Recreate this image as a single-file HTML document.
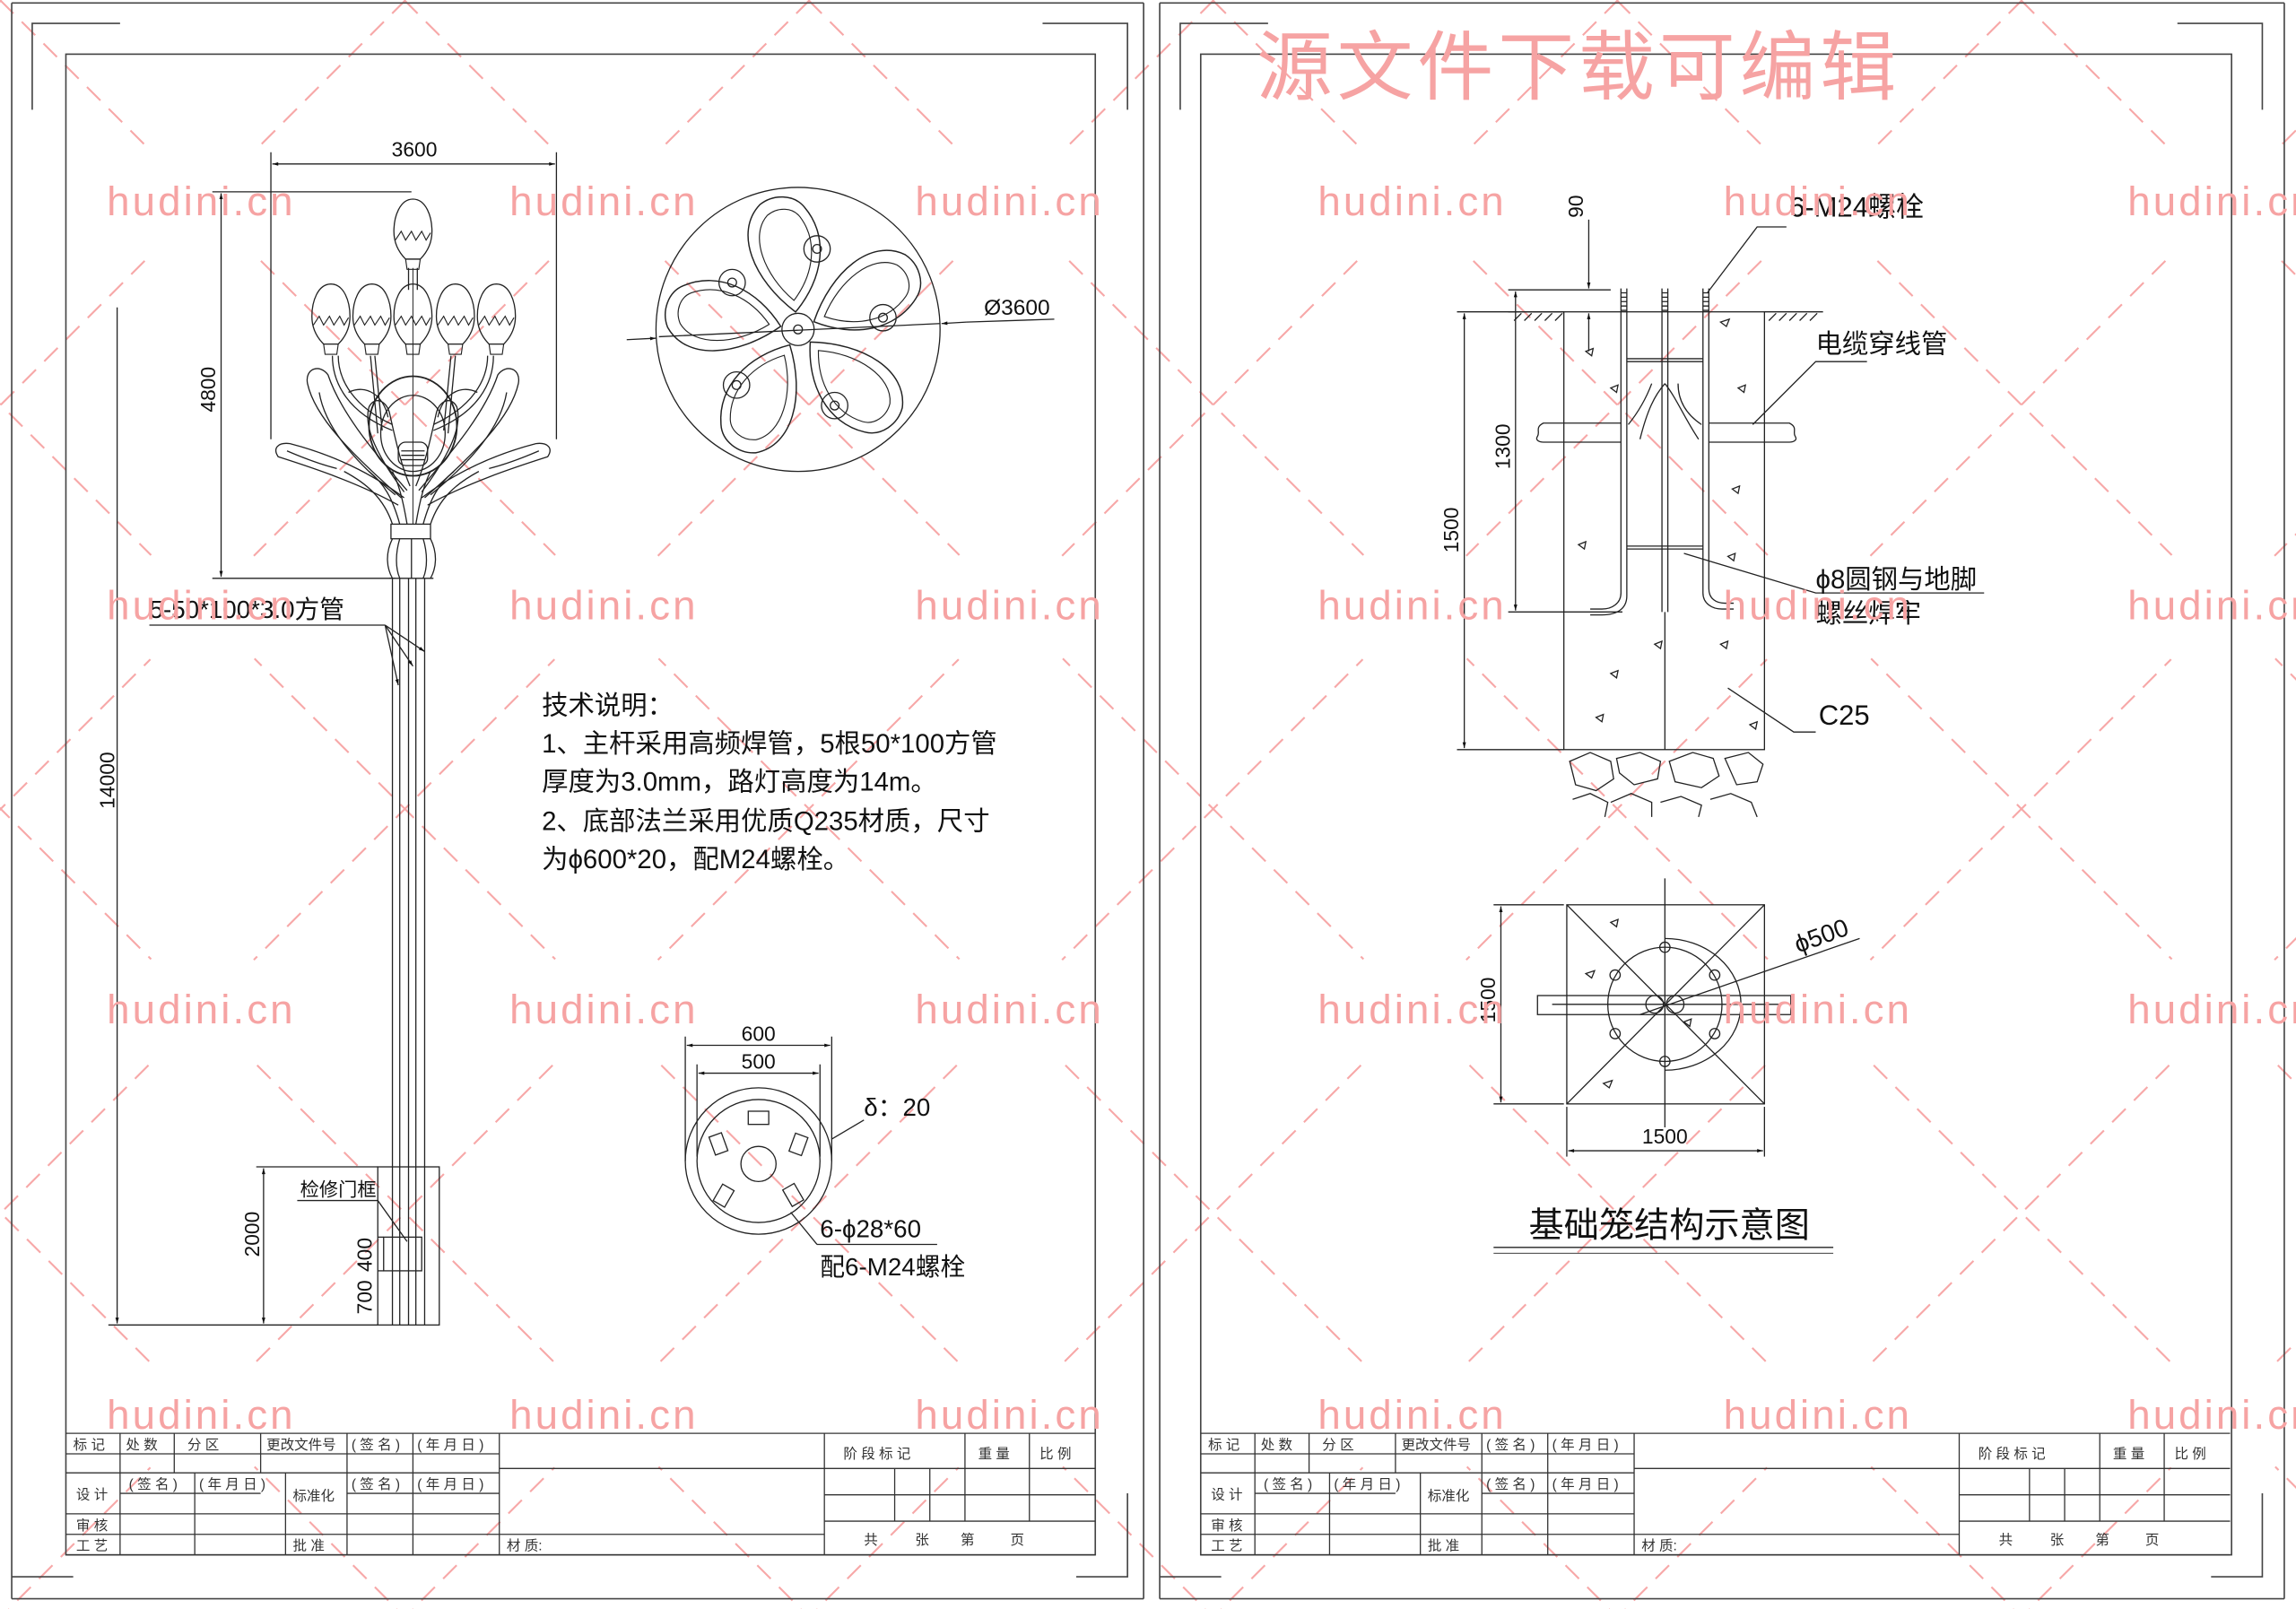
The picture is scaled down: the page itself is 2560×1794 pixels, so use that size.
<!DOCTYPE html>
<html><head><meta charset="utf-8">
<style>
html,body{margin:0;padding:0;background:#fff;}
svg{display:block;}
text{font-family:"Liberation Sans","Noto Sans CJK SC",sans-serif;fill:#111;}
.tb{font-size:9.5px;fill:#333;}
</style></head>
<body>
<svg width="2560" height="1794" viewBox="0 0 1568 1099" preserveAspectRatio="none" xmlns="http://www.w3.org/2000/svg">
<rect width="1568" height="1099" fill="#fff"/>
<defs>
  <marker id="ar" viewBox="0 0 10 10" refX="10" refY="5" markerWidth="7" markerHeight="5" orient="auto-start-reverse"><path d="M0,2 L10,5 L0,8 Z" fill="#111"/></marker>
  <g id="bulb">
    <path d="M0,-24 C9,-24 13,-12 13,-2 C13,8 8,14 5,17 L-5,17 C-8,14 -13,8 -13,-2 C-13,-12 -9,-24 0,-24 Z" fill="none" stroke="#222" stroke-width="0.8"/>
    <path d="M-12,4 L-8,-2 L-5,4 L-1,-2 L2,4 L6,-2 L9,4 L12,-1" fill="none" stroke="#222" stroke-width="0.7"/>
    <path d="M-5,17 L5,17 L4,24 L-4,24 Z" fill="none" stroke="#222" stroke-width="0.7"/>
  </g>
  <g id="petal">
    <path d="M0,-12 C-26,-38 -34,-72 -14,-88 C-4,-94 10,-92 16,-82 C30,-60 22,-32 0,-12 Z" fill="none" stroke="#222" stroke-width="0.9"/>
    <path d="M0,-20 C-18,-40 -24,-68 -10,-80 C-2,-85 8,-83 12,-76 C22,-58 16,-36 0,-20 Z" fill="none" stroke="#222" stroke-width="0.7"/>
  </g>
  <mask id="wm" maskUnits="userSpaceOnUse" x="0" y="0" width="1568" height="1099">
    <rect width="1568" height="1099" fill="#fff"/>
    <g fill="#000">
      <circle cx="138" cy="139" r="50"/><circle cx="414" cy="139" r="50"/><circle cx="690" cy="139" r="50"/><circle cx="966" cy="139" r="50"/><circle cx="1242" cy="139" r="50"/><circle cx="1518" cy="139" r="50"/>
      <circle cx="138" cy="415" r="50"/><circle cx="414" cy="415" r="50"/><circle cx="690" cy="415" r="50"/><circle cx="966" cy="415" r="50"/><circle cx="1242" cy="415" r="50"/><circle cx="1518" cy="415" r="50"/>
      <circle cx="138" cy="691" r="50"/><circle cx="414" cy="691" r="50"/><circle cx="690" cy="691" r="50"/><circle cx="966" cy="691" r="50"/><circle cx="1242" cy="691" r="50"/><circle cx="1518" cy="691" r="50"/>
      <circle cx="138" cy="967" r="50"/><circle cx="414" cy="967" r="50"/><circle cx="690" cy="967" r="50"/><circle cx="966" cy="967" r="50"/><circle cx="1242" cy="967" r="50"/><circle cx="1518" cy="967" r="50"/>
    </g>
  </mask>
</defs>

<!-- watermark diagonal dashed lines -->
<g stroke="#f7a8a8" stroke-width="1.3" stroke-dasharray="13 8" fill="none" mask="url(#wm)">
  <line x1="-1104" y1="0" x2="-5" y2="1099"/><line x1="-828" y1="0" x2="271" y2="1099"/>
  <line x1="-552" y1="0" x2="547" y2="1099"/><line x1="-276" y1="0" x2="823" y2="1099"/>
  <line x1="0" y1="0" x2="1099" y2="1099"/><line x1="276" y1="0" x2="1375" y2="1099"/>
  <line x1="552" y1="0" x2="1651" y2="1099"/><line x1="828" y1="0" x2="1927" y2="1099"/>
  <line x1="1104" y1="0" x2="2203" y2="1099"/><line x1="1380" y1="0" x2="2479" y2="1099"/>
  <line x1="1" y1="0" x2="-1098" y2="1099"/><line x1="277" y1="0" x2="-822" y2="1099"/>
  <line x1="553" y1="0" x2="-546" y2="1099"/><line x1="829" y1="0" x2="-270" y2="1099"/>
  <line x1="1105" y1="0" x2="6" y2="1099"/><line x1="1381" y1="0" x2="282" y2="1099"/>
  <line x1="1657" y1="0" x2="558" y2="1099"/><line x1="1933" y1="0" x2="834" y2="1099"/>
  <line x1="2209" y1="0" x2="1110" y2="1099"/><line x1="2485" y1="0" x2="1386" y2="1099"/>
  <line x1="2761" y1="0" x2="1662" y2="1099"/>
</g>

<!-- Sheet frames -->
<g fill="none" stroke="#444" stroke-width="1">
  <line x1="8" y1="2" x2="781" y2="2"/><line x1="8" y1="2" x2="8" y2="1092"/>
  <line x1="8" y1="1092" x2="781" y2="1092"/><line x1="781" y1="2" x2="781" y2="1092"/>
  <polyline points="22,75 22,16 82,16"/><polyline points="712,16 770,16 770,75"/>
  <polyline points="8,1077 50,1077"/><polyline points="735,1077 770,1077 770,1020"/>
  <rect x="45" y="37" width="703" height="1025"/>
  <line x1="792" y1="2" x2="1560" y2="2"/><line x1="792" y1="2" x2="792" y2="1092"/>
  <line x1="792" y1="1092" x2="1560" y2="1092"/><line x1="1560" y1="2" x2="1560" y2="1092"/>
  <polyline points="806,75 806,16 866,16"/><polyline points="1487,16 1545,16 1545,75"/>
  <polyline points="792,1077 834,1077"/><polyline points="1510,1077 1545,1077 1545,1020"/>
  <rect x="820" y="37" width="704" height="1025"/>
</g>

<!-- Title blocks -->
<g id="tblock">
<g fill="none" stroke="#333" stroke-width="0.8">
  <line x1="45" y1="979" x2="748" y2="979"/>
  <line x1="45" y1="993" x2="341" y2="993"/>
  <line x1="45" y1="1006" x2="341" y2="1006"/>
  <line x1="82" y1="1020" x2="178" y2="1020"/><line x1="237" y1="1020" x2="341" y2="1020"/>
  <line x1="45" y1="1034" x2="341" y2="1034"/>
  <line x1="45" y1="1048" x2="563" y2="1048"/>
  <line x1="341" y1="1003" x2="563" y2="1003"/>
  <line x1="563" y1="1003" x2="748" y2="1003"/>
  <line x1="563" y1="1021" x2="748" y2="1021"/>
  <line x1="563" y1="1039" x2="748" y2="1039"/>
  <line x1="82" y1="979" x2="82" y2="1006"/>
  <line x1="119" y1="979" x2="119" y2="1006"/>
  <line x1="82" y1="1006" x2="82" y2="1062"/>
  <line x1="133" y1="1006" x2="133" y2="1062"/>
  <line x1="178" y1="979" x2="178" y2="1006"/>
  <line x1="195" y1="1006" x2="195" y2="1062"/>
  <line x1="237" y1="979" x2="237" y2="1062"/>
  <line x1="282" y1="979" x2="282" y2="1062"/>
  <line x1="341" y1="979" x2="341" y2="1062"/>
  <line x1="563" y1="979" x2="563" y2="1062"/>
  <line x1="611" y1="1003" x2="611" y2="1039"/>
  <line x1="635" y1="1003" x2="635" y2="1039"/>
  <line x1="659" y1="979" x2="659" y2="1039"/>
  <line x1="703" y1="979" x2="703" y2="1039"/>
  <line x1="45" y1="1062" x2="748" y2="1062"/>
</g>
<text class="tb" x="50" y="990">标 记</text><text class="tb" x="86" y="990">处 数</text>
<text class="tb" x="128" y="990">分 区</text><text class="tb" x="182" y="990">更改文件号</text>
<text class="tb" x="240" y="990">( 签 名 )</text><text class="tb" x="285" y="990">( 年 月 日 )</text>
<text class="tb" x="52" y="1024">设 计</text><text class="tb" x="88" y="1017">( 签 名 )</text>
<text class="tb" x="136" y="1017">( 年 月 日 )</text><text class="tb" x="200" y="1025">标准化</text>
<text class="tb" x="240" y="1017">( 签 名 )</text><text class="tb" x="285" y="1017">( 年 月 日 )</text>
<text class="tb" x="52" y="1045">审 核</text><text class="tb" x="52" y="1059">工 艺</text>
<text class="tb" x="200" y="1059">批 准</text><text class="tb" x="346" y="1059">材 质:</text>
<text class="tb" x="576" y="996">阶 段 标 记</text><text class="tb" x="668" y="996">重 量</text>
<text class="tb" x="710" y="996">比 例</text>
<text class="tb" x="590" y="1055">共</text><text class="tb" x="625" y="1055">张</text>
<text class="tb" x="656" y="1055">第</text><text class="tb" x="690" y="1055">页</text>
</g>
<use href="#tblock" transform="translate(775,0)"/>

<!-- ================= LEFT: LAMP ELEVATION ================= -->
<g fill="none" stroke="#222" stroke-width="0.8">
  <line x1="185" y1="104" x2="185" y2="300"/><line x1="380" y1="104" x2="380" y2="300"/>
  <line x1="186" y1="112" x2="379" y2="112" marker-start="url(#ar)" marker-end="url(#ar)"/>
  <line x1="145" y1="131" x2="281" y2="131"/><line x1="145" y1="395" x2="270" y2="395"/>
  <line x1="151" y1="132" x2="151" y2="394" marker-start="url(#ar)" marker-end="url(#ar)"/>
  <line x1="80" y1="210" x2="80" y2="904" marker-end="url(#ar)"/>
  <line x1="74" y1="905" x2="258" y2="905"/>
  <line x1="175" y1="797" x2="258" y2="797"/>
  <line x1="180" y1="798" x2="180" y2="904" marker-start="url(#ar)" marker-end="url(#ar)"/>
  <line x1="258" y1="845" x2="262" y2="845"/>
  <line x1="258" y1="868" x2="262" y2="868"/>
  <line x1="268" y1="395" x2="268" y2="905"/><line x1="273" y1="395" x2="273" y2="905"/>
  <line x1="279" y1="395" x2="279" y2="905"/><line x1="284" y1="395" x2="284" y2="905"/>
  <line x1="290" y1="395" x2="290" y2="905"/>
  <rect x="258" y="797" width="42" height="108"/>
  <rect x="262" y="845" width="26" height="23"/>
  <polyline points="203,820 258,820 278,848"/>
  <rect x="267" y="358" width="27" height="10"/>
  <path d="M268,368 C263,378 264,388 268,395 M294,368 C299,378 298,388 294,395"/>
  <path d="M273,368 C270,378 270,388 273,395 M289,368 C292,378 292,388 289,395 M281,368 L281,395"/>
  <line x1="266" y1="395" x2="296" y2="395"/>
  <path d="M268,358 C262,340 250,330 235,322 M273,358 C268,340 262,330 252,322 M278,358 C275,340 272,330 268,322"/>
  <path d="M294,358 C300,340 312,330 327,322 M289,358 C294,340 300,330 310,322 M284,358 C287,340 290,330 294,322"/>
  <line x1="282" y1="183" x2="282" y2="358" stroke-width="0.6"/>
  <line x1="279" y1="183" x2="279" y2="198"/><line x1="285" y1="183" x2="285" y2="198"/>
  <ellipse cx="282" cy="291" rx="30" ry="34" stroke-width="1.1"/>
  <ellipse cx="282" cy="296" rx="22" ry="26"/>
  <rect x="272" y="302" width="20" height="16" rx="5"/>
  <line x1="274" y1="308" x2="290" y2="308"/><line x1="274" y1="311" x2="290" y2="311"/><line x1="274" y1="314" x2="290" y2="314"/>
</g>
<g id="lefthalf" fill="none" stroke="#222" stroke-width="0.8">
  <path d="M272,345 C245,330 215,320 190,312 C186,306 190,302 198,303 C225,310 252,322 276,340"/>
  <path d="M196,308 C210,314 222,318 230,320"/>
  <path d="M274,340 C240,310 215,285 210,262 C208,252 218,248 224,256 C232,280 252,305 278,335"/>
  <path d="M270,338 C242,315 222,292 218,268"/>
  <path d="M276,336 C258,312 248,292 252,278 C256,270 264,274 266,282 C270,300 274,318 280,332"/>
  <path d="M227,243 C227,262 238,282 268,294"/><path d="M231,243 C231,260 242,278 268,290"/>
  <path d="M253,243 L258,296"/><path d="M256,243 L261,294"/>
  <path d="M238,268 C250,262 262,270 265,285"/>
</g>
<use href="#lefthalf" transform="translate(564,0) scale(-1,1)"/>
<use href="#bulb" x="282" y="160"/>
<use href="#bulb" x="226" y="218"/><use href="#bulb" x="254" y="218"/>
<use href="#bulb" x="282" y="218"/><use href="#bulb" x="311" y="218"/><use href="#bulb" x="339" y="218"/>

<text x="283" y="107" font-size="14" text-anchor="middle">3600</text>
<text x="0" y="0" font-size="14" text-anchor="middle" transform="translate(147,266) rotate(-90)">4800</text>
<text x="0" y="0" font-size="14" text-anchor="middle" transform="translate(78,533) rotate(-90)">14000</text>
<text x="0" y="0" font-size="14" text-anchor="middle" transform="translate(177,843) rotate(-90)">2000</text>
<text x="0" y="0" font-size="14" text-anchor="middle" transform="translate(254,886) rotate(-90)">700</text>
<text x="0" y="0" font-size="14" text-anchor="middle" transform="translate(254,857) rotate(-90)">400</text>
<text x="205" y="817" font-size="13">检修门框</text>

<text x="102" y="422" font-size="17">5-50*100*3.0方管</text>
<g fill="none" stroke="#222" stroke-width="0.8">
  <line x1="102" y1="427" x2="263" y2="427"/>
  <line x1="263" y1="427" x2="272" y2="468" marker-end="url(#ar)"/>
  <line x1="263" y1="427" x2="282" y2="455" marker-end="url(#ar)"/>
  <line x1="263" y1="427" x2="290" y2="445" marker-end="url(#ar)"/>
</g>

<!-- top view -->
<g fill="none" stroke="#222" stroke-width="0.8">
  <circle cx="545" cy="225" r="97"/>
  <g transform="translate(545,225)">
    <use href="#petal" transform="rotate(-8)"/>
    <use href="#petal" transform="rotate(64)"/>
    <use href="#petal" transform="rotate(136)"/>
    <use href="#petal" transform="rotate(208)"/>
    <use href="#petal" transform="rotate(280)"/>
    <circle r="11"/><circle r="3"/>
    <circle cx="13" cy="-55" r="9"/><circle cx="13" cy="-55" r="3"/>
    <circle cx="-45" cy="-32" r="9"/><circle cx="-45" cy="-32" r="3"/>
    <circle cx="58" cy="-8" r="9"/><circle cx="58" cy="-8" r="3"/>
    <circle cx="-42" cy="38" r="9"/><circle cx="-42" cy="38" r="3"/>
    <circle cx="25" cy="52" r="9"/><circle cx="25" cy="52" r="3"/>
  </g>
  <line x1="450" y1="230" x2="642" y2="221"/>
  <line x1="660" y1="220" x2="643" y2="221" marker-end="url(#ar)"/>
  <line x1="660" y1="220" x2="720" y2="218"/>
  <line x1="428" y1="232" x2="448" y2="231" marker-end="url(#ar)"/>
</g>
<text x="672" y="215" font-size="15">Ø3600</text>

<g font-size="18">
<text x="370" y="488">技术说明：</text>
<text x="370" y="514">1、主杆采用高频焊管，5根50*100方管</text>
<text x="370" y="540">厚度为3.0mm，路灯高度为14m。</text>
<text x="370" y="567">2、底部法兰采用优质Q235材质，尺寸</text>
<text x="370" y="593">为ϕ600*20，配M24螺栓。</text>
</g>

<!-- flange -->
<g fill="none" stroke="#222" stroke-width="0.8">
  <line x1="468" y1="708" x2="468" y2="793"/><line x1="568" y1="708" x2="568" y2="793"/>
  <line x1="476" y1="727" x2="476" y2="790"/><line x1="560" y1="727" x2="560" y2="790"/>
  <line x1="469" y1="714" x2="567" y2="714" marker-start="url(#ar)" marker-end="url(#ar)"/>
  <line x1="477" y1="733" x2="559" y2="733" marker-start="url(#ar)" marker-end="url(#ar)"/>
  <circle cx="518" cy="793" r="50"/>
  <circle cx="518" cy="793" r="42"/>
  <circle cx="518" cy="795" r="12"/>
  <rect x="511" y="759" width="14" height="9"/>
  <rect x="486" y="775" width="9" height="13" transform="rotate(-20 490 781)"/>
  <rect x="541" y="775" width="9" height="13" transform="rotate(20 545 781)"/>
  <rect x="490" y="810" width="9" height="13" transform="rotate(30 494 816)"/>
  <rect x="537" y="810" width="9" height="13" transform="rotate(-30 541 816)"/>
  <line x1="568" y1="778" x2="590" y2="765"/>
  <line x1="540" y1="828" x2="558" y2="850"/>
  <line x1="558" y1="850" x2="640" y2="850"/>
</g>
<text x="518" y="711" font-size="14" text-anchor="middle">600</text>
<text x="518" y="730" font-size="14" text-anchor="middle">500</text>
<text x="590" y="762" font-size="17">δ：20</text>
<text x="560" y="845" font-size="17">6-ϕ28*60</text>
<text x="560" y="871" font-size="17">配6-M24螺栓</text>

<!-- ================= RIGHT SHEET ================= -->
<text x="858" y="64" font-size="52" textLength="437" style="fill:#f6a3a3">源文件下载可编辑</text>

<g fill="none" stroke="#222" stroke-width="0.8">
  <line x1="1030" y1="213" x2="1068" y2="213"/><line x1="1205" y1="213" x2="1245" y2="213"/>
  <path d="M1034,219 l5,-5 M1041,219 l5,-5 M1048,219 l5,-5 M1055,219 l5,-5 M1062,219 l5,-5 M1208,219 l5,-5 M1215,219 l5,-5 M1222,219 l5,-5 M1229,219 l5,-5 M1236,219 l5,-5"/>
  <line x1="1030" y1="198" x2="1100" y2="198"/>
  <line x1="1085" y1="150" x2="1085" y2="197" marker-end="url(#ar)"/>
  <line x1="1085" y1="240" x2="1085" y2="214" marker-end="url(#ar)"/>
  <rect x="1068" y="213" width="137" height="299"/>
  <line x1="1137" y1="418" x2="1137" y2="512"/>
  <path d="M1107,197 L1107,405 C1107,412 1101,416 1094,416 L1086,416"/>
  <path d="M1111,197 L1111,407 C1111,416 1104,420 1094,420 L1086,420"/>
  <path d="M1135,197 L1135,418 M1139,197 L1139,418"/>
  <path d="M1163,197 L1163,405 C1163,412 1169,416 1176,416 L1184,416"/>
  <path d="M1167,197 L1167,402 C1167,409 1172,412 1178,412 L1184,412"/>
  <path d="M1107,200 h4 M1107,203 h4 M1107,206 h4 M1107,209 h4 M1107,212 h4 M1135,200 h4 M1135,203 h4 M1135,206 h4 M1135,209 h4 M1135,212 h4 M1163,200 h4 M1163,203 h4 M1163,206 h4 M1163,209 h4 M1163,212 h4"/>
  <line x1="1111" y1="245" x2="1163" y2="245"/><line x1="1111" y1="247" x2="1163" y2="247"/>
  <line x1="1111" y1="373" x2="1163" y2="373"/><line x1="1111" y1="375" x2="1163" y2="375"/>
  <path d="M1107,289 L1054,289 C1048,292 1052,295 1050,298 C1048,301 1052,302 1054,302 L1107,302"/>
  <path d="M1167,289 L1222,289 C1228,292 1224,295 1226,298 C1228,301 1224,302 1222,302 L1167,302"/>
  <path d="M1112,290 C1120,280 1125,270 1128,262 M1162,290 C1150,282 1146,272 1146,262 M1137,262 C1130,270 1125,280 1120,300 M1137,262 C1145,272 1150,285 1160,300"/>
  <line x1="1030" y1="418" x2="1108" y2="418"/>
  <line x1="1035" y1="199" x2="1035" y2="417" marker-start="url(#ar)" marker-end="url(#ar)"/>
  <line x1="995" y1="213" x2="1068" y2="213"/><line x1="995" y1="512" x2="1068" y2="512"/>
  <line x1="1000" y1="214" x2="1000" y2="511" marker-start="url(#ar)" marker-end="url(#ar)"/>
  <polyline points="1220,155 1200,155 1166,200"/>
  <polyline points="1275,247 1240,247 1197,290"/>
  <polyline points="1355,405 1240,405 1150,378"/>
  <polyline points="1240,500 1225,500 1180,470"/>
  <path d="M1072,520 l14,-6 l14,6 l2,12 l-12,8 l-14,-4 z M1104,518 l16,-4 l14,6 l-2,12 l-16,4 l-10,-8 z M1140,520 l16,-6 l14,4 l4,12 l-12,8 l-18,-4 z M1178,518 l16,-4 l10,8 l-4,12 l-14,2 z M1074,546 l12,-4 l12,6 l-2,10 M1100,548 l14,-6 l14,6 l0,10 M1134,548 l14,-4 l14,6 l-2,8 M1168,546 l14,-4 l14,6 l4,10"/>
  <path d="M1175,220 l6,-2 l-2,5 z M1083,240 l5,-2 l-1,5 z M1187,265 l5,-2 l-1,5 z M1100,265 l5,-2 l-1,5 z M1078,372 l5,-2 l-1,5 z M1180,380 l5,-2 l-1,5 z M1175,440 l5,-2 l-1,5 z M1100,460 l5,-2 l-1,5 z M1130,440 l5,-2 l-1,5 z M1195,495 l5,-2 l-1,5 z M1090,490 l5,-2 l-1,5 z M1183,334 l5,-2 l-1,5 z"/>
</g>
<text x="0" y="0" font-size="14" text-anchor="middle" transform="translate(1081,141) rotate(-90)">90</text>
<text x="0" y="0" font-size="14" text-anchor="middle" transform="translate(1031,305) rotate(-90)">1300</text>
<text x="0" y="0" font-size="14" text-anchor="middle" transform="translate(996,362) rotate(-90)">1500</text>
<text x="1222" y="148" font-size="19">6-M24螺栓</text>
<text x="1240" y="241" font-size="18">电缆穿线管</text>
<text x="1240" y="402" font-size="18">ϕ8圆钢与地脚</text>
<text x="1240" y="425" font-size="18">螺丝焊牢</text>
<text x="1242" y="495" font-size="19">C25</text>

<g fill="none" stroke="#222" stroke-width="0.8">
  <rect x="1070" y="618" width="135" height="136"/>
  <line x1="1070" y1="618" x2="1205" y2="754"/><line x1="1205" y1="618" x2="1070" y2="754"/>
  <line x1="1137" y1="600" x2="1137" y2="770"/>
  <circle cx="1137" cy="686" r="39"/>
  <path d="M1137,641 A52,45 0 0 1 1137,731"/>
  <rect x="1050" y="680" width="173" height="13"/>
  <line x1="1060" y1="686" x2="1215" y2="686"/>
  <circle cx="1130" cy="686" r="6"/><circle cx="1144" cy="686" r="6"/>
  <circle cx="1137" cy="647" r="3.5"/><circle cx="1137" cy="725" r="3.5"/>
  <circle cx="1103" cy="666" r="3.5"/><circle cx="1171" cy="666" r="3.5"/>
  <circle cx="1103" cy="706" r="3.5"/><circle cx="1171" cy="706" r="3.5"/>
  <line x1="1120" y1="693" x2="1270" y2="641"/>
  <line x1="1020" y1="618" x2="1068" y2="618"/><line x1="1020" y1="754" x2="1068" y2="754"/>
  <line x1="1025" y1="619" x2="1025" y2="753" marker-start="url(#ar)" marker-end="url(#ar)"/>
  <line x1="1070" y1="756" x2="1070" y2="790"/><line x1="1205" y1="756" x2="1205" y2="790"/>
  <line x1="1071" y1="786" x2="1204" y2="786" marker-start="url(#ar)" marker-end="url(#ar)"/>
  <path d="M1100,630 l5,-2 l-1,5 z M1083,665 l6,-2 l-2,5 z M1150,698 l5,-2 l-1,5 z M1095,740 l6,-2 l-2,5 z"/>
  <line x1="1020" y1="852" x2="1252" y2="852"/><line x1="1020" y1="856" x2="1252" y2="856" stroke-width="0.5"/>
</g>
<text x="0" y="0" font-size="17" transform="translate(1228,651) rotate(-20)">ϕ500</text>
<text x="0" y="0" font-size="14" text-anchor="middle" transform="translate(1021,683) rotate(-90)">1500</text>
<text x="1137" y="781" font-size="14" text-anchor="middle">1500</text>
<text x="1140" y="845" font-size="24" text-anchor="middle">基础笼结构示意图</text>

<!-- hudini.cn watermarks -->
<g font-size="28">
<text x="73" y="147" textLength="127" style="fill:#f6a3a3">hudini.cn</text>
<text x="348" y="147" textLength="127" style="fill:#f6a3a3">hudini.cn</text>
<text x="625" y="147" textLength="127" style="fill:#f6a3a3">hudini.cn</text>
<text x="900" y="147" textLength="127" style="fill:#f6a3a3">hudini.cn</text>
<text x="1177" y="147" textLength="127" style="fill:#f6a3a3">hudini.cn</text>
<text x="1453" y="147" textLength="127" style="fill:#f6a3a3">hudini.cn</text>
<text x="73" y="423" textLength="127" style="fill:#f6a3a3">hudini.cn</text>
<text x="348" y="423" textLength="127" style="fill:#f6a3a3">hudini.cn</text>
<text x="625" y="423" textLength="127" style="fill:#f6a3a3">hudini.cn</text>
<text x="900" y="423" textLength="127" style="fill:#f6a3a3">hudini.cn</text>
<text x="1177" y="423" textLength="127" style="fill:#f6a3a3">hudini.cn</text>
<text x="1453" y="423" textLength="127" style="fill:#f6a3a3">hudini.cn</text>
<text x="73" y="699" textLength="127" style="fill:#f6a3a3">hudini.cn</text>
<text x="348" y="699" textLength="127" style="fill:#f6a3a3">hudini.cn</text>
<text x="625" y="699" textLength="127" style="fill:#f6a3a3">hudini.cn</text>
<text x="900" y="699" textLength="127" style="fill:#f6a3a3">hudini.cn</text>
<text x="1177" y="699" textLength="127" style="fill:#f6a3a3">hudini.cn</text>
<text x="1453" y="699" textLength="127" style="fill:#f6a3a3">hudini.cn</text>
<text x="73" y="976" textLength="127" style="fill:#f6a3a3">hudini.cn</text>
<text x="348" y="976" textLength="127" style="fill:#f6a3a3">hudini.cn</text>
<text x="625" y="976" textLength="127" style="fill:#f6a3a3">hudini.cn</text>
<text x="900" y="976" textLength="127" style="fill:#f6a3a3">hudini.cn</text>
<text x="1177" y="976" textLength="127" style="fill:#f6a3a3">hudini.cn</text>
<text x="1453" y="976" textLength="127" style="fill:#f6a3a3">hudini.cn</text>
</g>
</svg>
</body></html>
